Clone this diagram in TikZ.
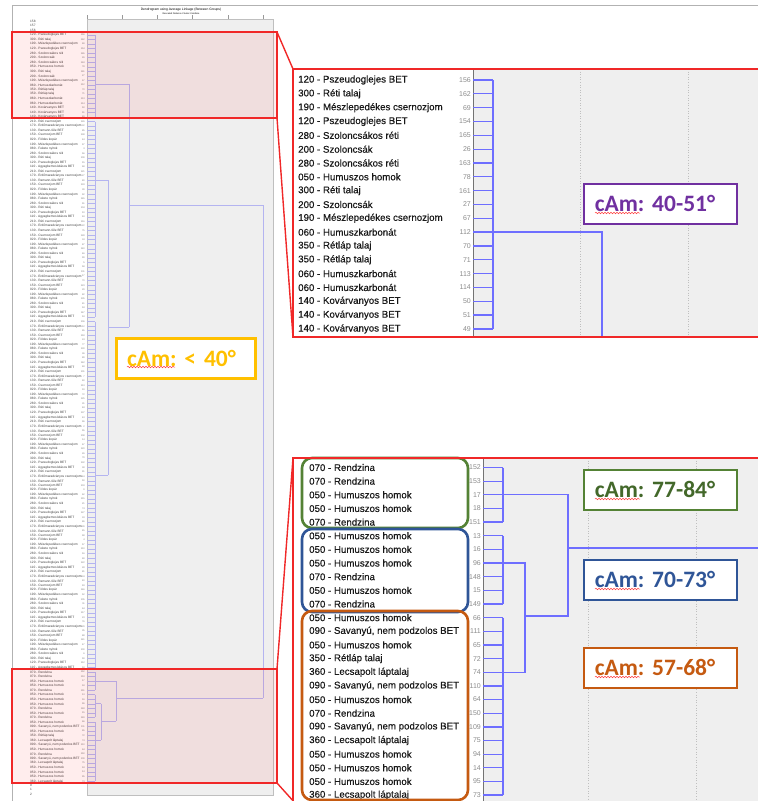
\documentclass[tikz,border=0pt]{standalone}
\usepackage{fontspec}
\setmainfont{Liberation Sans}
\newfontfamily\camfont{Carlito}
\newfontfamily\rowfont{Liberation Sans}[FakeBold=0.4]
\usetikzlibrary{positioning,decorations.pathmorphing}

\definecolor{plotgray}{HTML}{EFEFEF}
\definecolor{linkblue}{HTML}{6E6EFF}
\definecolor{paleblue}{HTML}{B4B4F0}
\definecolor{zoomred}{HTML}{F02828}
\definecolor{camgreen}{HTML}{548235}
\definecolor{camblue}{HTML}{2F5597}
\definecolor{camorange}{HTML}{C55A11}
\definecolor{campurple}{HTML}{7030A0}
\definecolor{camyellow}{HTML}{FFC000}

% leaves of the two zoomed clusters: label/case number
\def\toprows{120 - Pszeudoglejes BET/156, 300 - Réti talaj/162,
  190 - Mészlepedékes csernozjom/69, 120 - Pszeudoglejes BET/154,
  280 - Szoloncsákos réti/165, 200 - Szoloncsák/26, 280 - Szoloncsákos réti/163,
  050 - Humuszos homok/78, 300 - Réti talaj/161, 200 - Szoloncsák/27,
  190 - Mészlepedékes csernozjom/67, 060 - Humuszkarbonát/112, 350 - Rétláp talaj/70,
  350 - Rétláp talaj/71, 060 - Humuszkarbonát/113, 060 - Humuszkarbonát/114,
  140 - Kovárvanyos BET/50, 140 - Kovárvanyos BET/51, 140 - Kovárvanyos BET/49}
\def\botrows{070 - Rendzina/152, 070 - Rendzina/153, 050 - Humuszos homok/17,
  050 - Humuszos homok/18, 070 - Rendzina/151, 050 - Humuszos homok/13,
  050 - Humuszos homok/16, 050 - Humuszos homok/96, 070 - Rendzina/148,
  050 - Humuszos homok/15, 070 - Rendzina/149, 050 - Humuszos homok/66,
  {090 - Savanyú, nem podzolos BET}/111, 050 - Humuszos homok/65, 350 - Rétláp talaj/72,
  360 - Lecsapolt láptalaj/74, {090 - Savanyú, nem podzolos BET}/110,
  050 - Humuszos homok/64, 070 - Rendzina/150, {090 - Savanyú, nem podzolos BET}/109,
  360 - Lecsapolt láptalaj/75, 050 - Humuszos homok/94, 050 - Humuszos homok/14,
  050 - Humuszos homok/95, 360 - Lecsapolt láptalaj/73}
\def\midnames{{"150 - Csernozjom BET","210 - Réti csernozjom","300 - Réti talaj",
  "190 - Mészlepedékes csernozjom","130 - Ramann-féle BET","110 - Agyagbemosódásos BET",
  "280 - Szoloncsákos réti","020 - Földes kopár","170 - Erdőmaradványos csernozjom",
  "120 - Pszeudoglejes BET","080 - Fekete nyirok"}}

\begin{document}
\begin{tikzpicture}[x=1pt,y=-1pt,
  tinylabel/.style={anchor=west,inner sep=0pt,font=\fontsize{3.2}{3.2}\selectfont,text=black!75},
  tinynum/.style={anchor=east,inner sep=0pt,font=\fontsize{2.4}{2.4}\selectfont,text=black!50},
  rowlabel/.style={anchor=west,inner sep=0pt,font=\rowfont\fontsize{9.7}{10}\selectfont,text=black!90},
  casenum/.style={anchor=east,inner sep=0pt,font=\fontsize{7}{8}\selectfont,text=black!45},
  paleleaf/.style={paleblue,line width=0.6pt},
  link/.style={linkblue,line width=1.3pt},
  gridline/.style={black!25,dotted,line width=0.6pt},
  frameline/.style={black!30,line width=0.8pt},
  zoomframe/.style={zoomred,line width=1.4pt},
  highlight/.style={zoomframe,fill=red,fill opacity=0.07},
  cambox/.style={draw=#1,text=#1,fill=white,line width=1.5pt,anchor=north west,
    inner xsep=11pt,inner ysep=0pt,minimum height=40pt,text width=131pt,align=left,
    font=\camfont\bfseries\fontsize{23.5}{26}\selectfont\frenchspacing},
  groupbox/.style={draw=#1,line width=2.6pt,rounded corners=10pt},
  spell/.style={red!75,line width=0.5pt,decorate,
    decoration={snake,amplitude=0.8pt,segment length=3pt}}]
\useasboundingbox (0,0) rectangle (758,801);

%%% thumbnail of the whole dendrogram
\draw[frameline] (12,5) -- (758,5);
\draw[frameline] (12,5) -- (12,801);
\draw[black!25,fill=plotgray] (87,19) rectangle (273,795);
\foreach \k in {0,...,5}
  \draw[black!40,line width=0.4pt] ({87+35.2*\k},15) -- ({87+35.2*\k},19);
\node[inner sep=0pt,font=\fontsize{3.3}{3.3}\selectfont] (title) at (181,10)
  {Dendrogram using Average Linkage (Between Groups)};
\node[inner sep=0pt,font=\fontsize{2.3}{2.3}\selectfont,below=0.8pt of title] (subtitle)
  {Rescaled Distance Cluster Combine};
\node[tinylabel] (x0) at (30,21) {158};
\node[tinylabel] (x1) at (30,25.5) {157};
\node[tinylabel] (x2) at (30,30) {156};
\node[tinylabel] (y0) at (30,785) {0};
\node[tinylabel] (y1) at (30,789.5) {1};
\node[tinylabel] (y2) at (30,794) {2};

\foreach \lab/\num [count=\i from 0] in \toprows {
  \node[tinylabel] (tl\i) at (30,{35+4.55*\i}) {\lab};
  \node[tinynum] (tn\i) at (85,{35+4.55*\i}) {\num};
  \draw[paleleaf] (tn\i.east) ++(2,0) -- ++(8,0);
}
\foreach \i in {19,...,139} {
  \pgfmathtruncatemacro\m{mod(\i*7,11)}
  \pgfmathparse{\midnames[\m]}\let\lab\pgfmathresult
  \pgfmathtruncatemacro\cn{mod(\i*53,147)+1}
  \node[tinylabel] (tl\i) at (30,{35+4.55*\i}) {\lab};
  \node[tinynum] (tn\i) at (85,{35+4.55*\i}) {\cn};
  \draw[paleleaf] (tn\i.east) ++(2,0) -- ++(8,0);
}
\foreach \lab/\num [count=\i from 140] in \botrows {
  \node[tinylabel] (tl\i) at (30,{35+4.55*\i}) {\lab};
  \node[tinynum] (tn\i) at (85,{35+4.55*\i}) {\num};
  \draw[paleleaf] (tn\i.east) ++(2,0) -- ++(8,0);
}

% thumbnail links
\draw[paleleaf] (95,35) -- (95,117);
\draw[paleleaf] (95,121.5) -- (95,317);
\draw[paleleaf] (95,321.7) -- (95,667.5);
\draw[paleleaf] (95,672) -- (95,690);
\draw[paleleaf] (95,694.5) -- (95,717.3);
\draw[paleleaf] (95,722) -- (95,781);
\draw[paleleaf] (95,84) -- (129,84) (95,180) -- (108,180) (95,475) -- (108,475);
\draw[paleleaf] (108,180) -- (108,475) (108,327) -- (129,327);
\draw[paleleaf] (129,84) -- (129,327) (129,205) -- (263,205);
\draw[paleleaf] (95,681) -- (116,681) (95,703.5) -- (101,703.5) (95,740) -- (101,740);
\draw[paleleaf] (101,703.5) -- (101,740) (101,721) -- (116,721);
\draw[paleleaf] (116,681) -- (116,721) (116,698) -- (263,698);
\draw[paleleaf] (263,205) -- (263,698);

\node[cambox=camyellow,line width=3pt,text width=118pt,inner xsep=10.5pt] (camlow) at (115,337) {cAm: < 40°};
\draw[spell] ([shift={(12,30)}]camlow.north west) -- ++(48,0);

% highlighted parts of the thumbnail
\draw[highlight] (12,32) coordinate (hta) rectangle (277,118) coordinate (htb);
\draw[highlight] (12,669) coordinate (hba) rectangle (277,783) coordinate (hbb);

%%% zoom of the upper cluster
\fill[white] (293,69) rectangle (473,337);
\fill[plotgray] (473,69) rectangle (760,337);
\draw[gridline] (580,69) -- (580,337) (688,69) -- (688,337);
\draw[black!55,line width=1pt] (473,69) -- (473,337);
\foreach \lab/\num [count=\i from 0] in \toprows {
  \node[rowlabel] (pl\i) at (298,{80+13.83*\i}) {\lab};
  \node[casenum] (pn\i) at (471,{80+13.83*\i}) {\num};
  \coordinate (pa\i) at (473,{80+13.83*\i});
  \coordinate (pb\i) at (493,{80+13.83*\i});
  \draw[link] (pa\i) -- (pb\i);
}
\draw[link] (pb0) -- (pb18);
\coordinate (ja) at (602,{80+13.83*11});
\coordinate (jadown) at (602,337);
\draw[link] (pb11) -- (ja) -- (jadown);
\node[cambox=campurple] (cam4051) at (583,183) {cAm: 40-51°};
\draw[spell] ([shift={(12,30)}]cam4051.north west) -- ++(45,0);

%%% zoom of the lower cluster
\fill[white] (293,458) rectangle (483,805);
\fill[plotgray] (483,458) rectangle (760,805);
\draw[gridline] (588,458) -- (588,805) (696,458) -- (696,805);
\draw[black!55,line width=1pt] (483,458) -- (483,805);
\foreach \lab/\num [count=\i from 0] in \botrows {
  \node[rowlabel] (ql\i) at (309,{467.5+13.65*\i}) {\lab};
  \node[casenum] (qn\i) at (481,{467.5+13.65*\i}) {\num};
  \coordinate (qa\i) at (483,{467.5+13.65*\i});
  \coordinate (qb\i) at (503,{467.5+13.65*\i});
  \draw[link] (qa\i) -- (qb\i);
}
\draw[link] (qb0) -- (qb4) (qb5) -- (qb10) (qb11) -- (qb24);
\coordinate (jg) at (568,{467.5+13.65*2});
\coordinate (jb) at (525,{467.5+13.65*7});
\coordinate (jo) at (525,{467.5+13.65*15});
\coordinate (jbo) at (525,616);
\coordinate (jbo2) at (568,616);
\coordinate (jroot) at (568,548);
\coordinate (jright) at (760,548);
\draw[link] (qb2) -- (jg) -- (jbo2) -- (jbo);
\draw[link] (qb7) -- (jb) -- (jo) -- (qb15);
\draw[link] (jroot) -- (jright);

\draw[groupbox=camgreen] (302,458) rectangle (468,528);
\draw[groupbox=camblue] (302,529) rectangle (468,612);
\draw[groupbox=camorange] (302,611) rectangle (468,800);

\node[cambox=camgreen,text=camgreen!80!black] (cam7784) at (583,469) {cAm: 77-84°};
\node[cambox=camblue] (cam7073) at (583,559) {cAm: 70-73°};
\node[cambox=camorange] (cam5768) at (583,647) {cAm: 57-68°};
\foreach \b in {cam7784,cam7073,cam5768}
  \draw[spell] ([shift={(12,30)}]\b.north west) -- ++(45,0);

%%% red zoom frames and connectors
\coordinate (ztl) at (293,69);
\coordinate (zbl) at (293,337);
\coordinate (ztr) at (760,69);
\coordinate (zbr) at (760,337);
\draw[zoomframe] (ztr) -- (ztl) -- (zbl) -- (zbr);
\coordinate (wtl) at (293,458);
\coordinate (wbl) at (293,803);
\coordinate (wtr) at (760,458);
\draw[zoomframe] (wtr) -- (wtl) -- (wbl);
\draw[zoomframe] (hta -| htb) -- (ztl);
\draw[zoomframe] (htb) -- (zbl);
\draw[zoomframe] (hba -| hbb) -- (wtl);
\draw[zoomframe] (hbb) -- (295,803);
\end{tikzpicture}
\end{document}
